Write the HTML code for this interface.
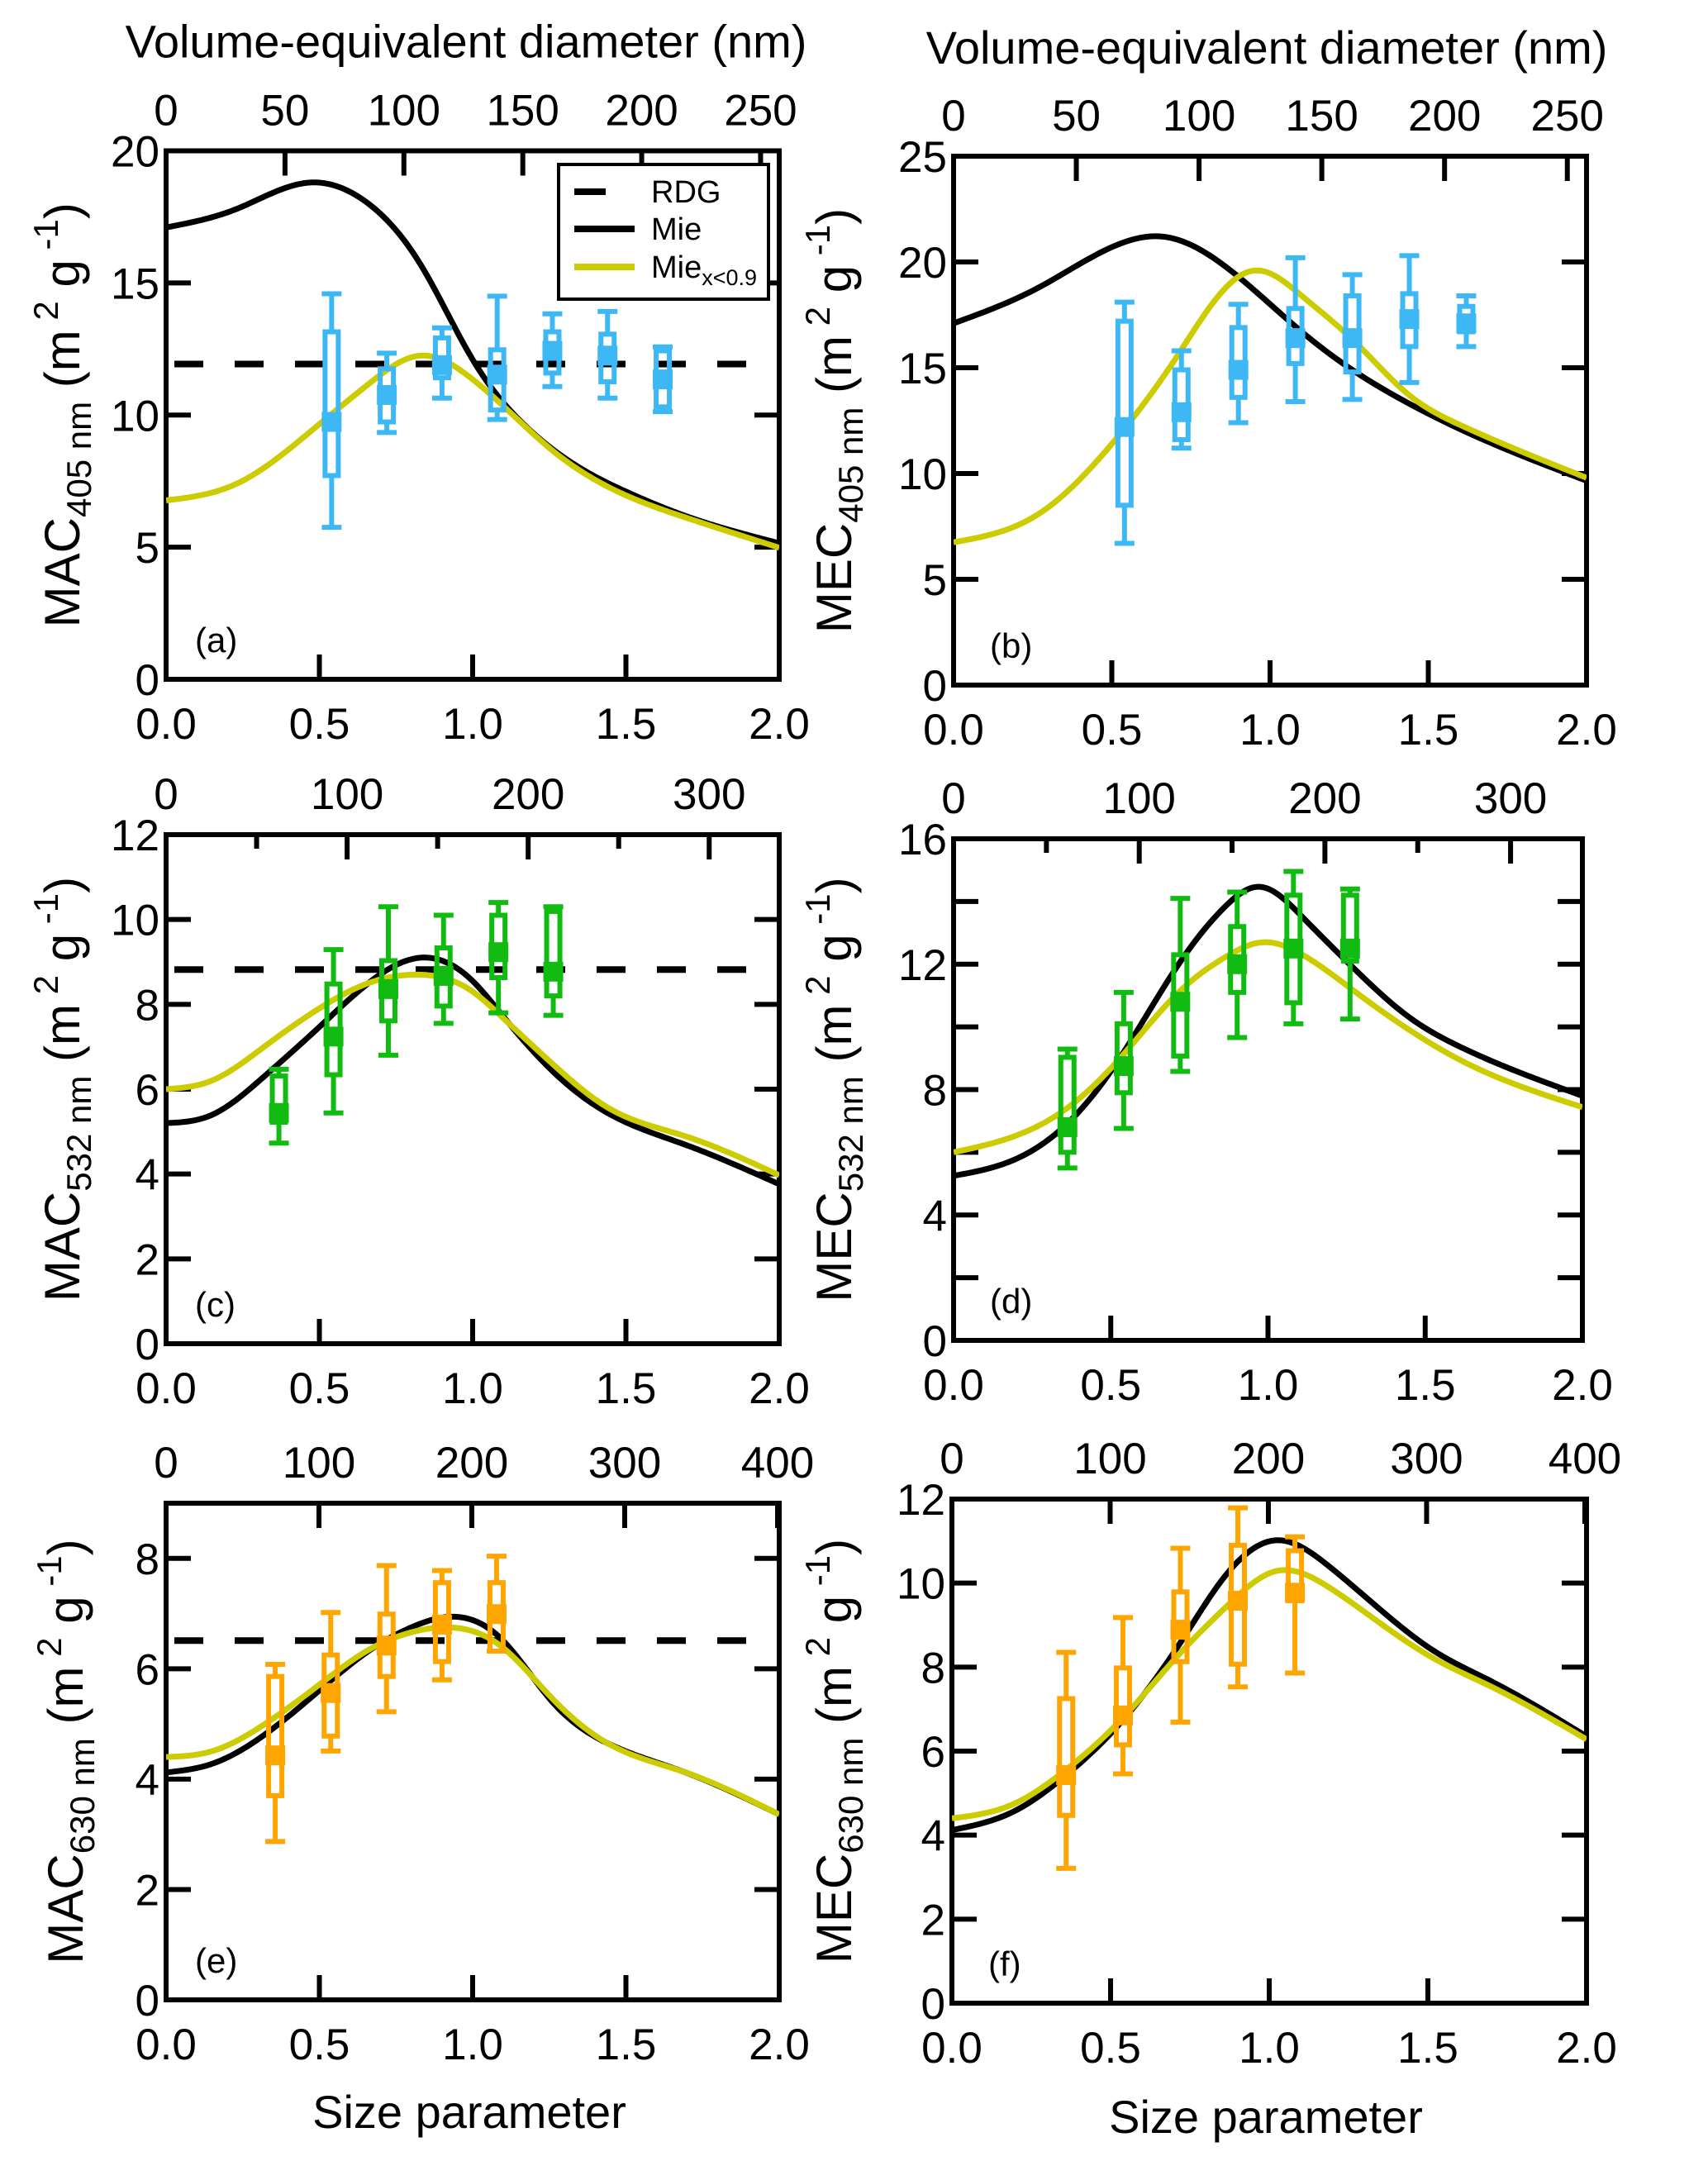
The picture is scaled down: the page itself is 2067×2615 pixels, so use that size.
<!DOCTYPE html>
<html><head><meta charset="utf-8"><style>
html,body{margin:0;padding:0;background:#fff}
svg{display:block;font-family:"Liberation Sans",Arial,sans-serif}
</style></head><body>
<svg id="fig" width="2067" height="2615" viewBox="0 0 2067 2615" xmlns="http://www.w3.org/2000/svg"></svg>
<script>
// ---------- data ----------
const rdgValues = {a:11.93, c:8.82, e:6.51};
const aMieX=[0,0.23,0.47,0.66,0.83,1.0,1.18,1.35,1.52,1.69,2.0];
const aMieY=[17.1,17.8,18.8,18.0,15.7,12.1,9.5,8.0,7.0,6.2,5.15];
const aFitX=[0,0.23,0.49,0.66,0.83,1.0,1.09,1.26,1.52,1.69,2.0];
const aFitY=[6.77,7.4,9.56,11.17,12.25,11.35,10.45,8.66,6.86,6.14,4.98];
const bMieX=[0,0.27,0.5,0.66,0.9,1.1,1.27,1.44,1.6,2.0];
const bMieY=[17.1,18.8,20.7,21.2,19.3,16.7,14.8,13.3,12.1,9.66];
const bFitX=[0,0.27,0.5,0.7,0.9,0.96,1.1,1.27,1.44,1.6,2.0];
const bFitY=[6.75,8.1,11.4,15.4,19.3,19.6,18.4,16.2,13.7,12.3,9.8];
const cMieX=[0,0.145,0.32,0.49,0.66,0.83,1.0,1.09,1.26,1.44,1.69,2.0];
const cMieY=[5.2,5.38,6.3,7.4,8.5,9.1,8.55,7.8,6.43,5.44,4.7,3.76];
const cFitX=[0,0.145,0.32,0.49,0.66,0.815,1.0,1.09,1.26,1.44,1.69,2.0];
const cFitY=[6.0,6.19,7.0,7.86,8.5,8.7,8.3,7.74,6.6,5.57,4.9,3.97];
const dMieX=[0,0.19,0.36,0.525,0.726,0.86,0.97,1.11,1.28,1.45,1.61,2.0];
const dMieY=[5.25,5.75,6.9,8.95,12.15,13.8,14.47,13.5,11.8,10.3,9.37,7.8];
const dFitX=[0,0.19,0.36,0.525,0.726,0.86,0.985,1.11,1.28,1.45,1.61,2.0];
const dFitY=[6.0,6.5,7.4,8.95,11.2,12.2,12.7,12.3,11.1,9.9,8.95,7.44];
const eMieX=[0,0.146,0.32,0.49,0.66,0.8,0.92,1.09,1.26,1.44,1.69,2.0];
const eMieY=[4.12,4.27,4.8,5.56,6.32,6.75,6.94,6.56,5.4,4.65,4.13,3.36];
const eFitX=[0,0.146,0.32,0.49,0.66,0.8,0.92,1.09,1.26,1.44,1.69,2.0];
const eFitY=[4.4,4.5,4.99,5.67,6.34,6.66,6.75,6.42,5.46,4.65,4.13,3.36];
const fMieX=[0,0.194,0.36,0.526,0.725,0.858,1.024,1.19,1.356,1.52,1.69,2.0];
const fMieY=[4.12,4.56,5.43,6.63,8.64,10.14,11.02,10.39,9.33,8.38,7.7,6.35];
const fFitX=[0,0.194,0.36,0.526,0.725,0.858,1.024,1.19,1.356,1.52,1.69,2.0];
const fFitY=[4.4,4.74,5.56,6.69,8.38,9.39,10.29,9.89,9.01,8.2,7.57,6.28];
// measurements: x, whisker low/high, box low/high, median
const aPtX=[0.54,0.72,0.90,1.08,1.26,1.44,1.62];
const aWLo=[5.75,9.34,10.64,9.83,11.08,10.64,10.13];
const aWHi=[14.59,12.34,13.3,14.5,13.83,13.92,12.58];
const aBLo=[7.71,9.74,11.41,10.19,11.59,11.26,10.31];
const aBHi=[13.15,11.75,12.92,12.47,13.15,13.06,12.43];
const aMed=[9.74,10.76,11.89,11.53,12.43,12.25,11.35];
const bPtX=[0.54,0.72,0.90,1.08,1.26,1.44,1.62];
const bWLo=[6.7,11.2,12.4,13.4,13.5,14.3,16.0];
const bWHi=[18.1,15.8,18.0,20.2,19.4,20.3,18.4];
const bBLo=[8.5,11.6,13.6,15.2,14.8,16.0,16.7];
const bBHi=[17.2,14.9,16.9,17.8,18.4,18.5,17.9];
const bMed=[12.2,12.9,14.9,16.4,16.4,17.3,17.1];
const cPtX=[0.368,0.546,0.725,0.905,1.084,1.263];
const cWLo=[4.73,5.44,6.8,7.55,7.8,7.74];
const cWHi=[6.47,9.29,10.3,10.1,10.4,10.3];
const cBLo=[5.22,6.34,7.61,7.96,8.63,8.2];
const cBHi=[6.31,8.48,9.03,9.33,10.1,10.19];
const cMed=[5.44,7.24,8.36,8.67,9.23,8.77];
const dPtX=[0.362,0.541,0.721,0.902,1.081,1.261];
const dWLo=[5.5,6.76,8.58,9.66,10.1,10.25];
const dWHi=[9.29,11.1,14.1,14.3,14.96,14.4];
const dBLo=[6.0,7.9,9.07,11.1,10.77,12.1];
const dBHi=[9.03,10.1,12.3,13.2,14.2,14.2];
const dMed=[6.8,8.75,10.8,12.0,12.5,12.5];
const ePtX=[0.356,0.537,0.719,0.9,1.078];
const eWLo=[2.87,4.51,5.22,5.8,6.32];
const eWHi=[6.08,7.02,7.87,7.78,8.04];
const eBLo=[3.7,4.78,5.86,6.13,6.32];
const eBHi=[5.86,6.25,6.99,7.56,7.56];
const eMed=[4.43,5.56,6.42,6.8,6.99];
const fPtX=[0.36,0.539,0.72,0.901,1.081];
const fWLo=[3.21,5.46,6.69,7.53,7.86];
const fWHi=[8.35,9.18,10.83,11.79,11.1];
const fBLo=[4.47,6.15,8.13,8.07,9.58];
const fBHi=[7.25,7.98,9.79,10.9,10.77];
const fMed=[5.43,6.85,8.89,9.58,9.77];
const xTickLabels=["0.0","0.5","1.0","1.5","2.0"];

// ---------- layout ----------
const svg=document.getElementById('fig');
const NS='http://www.w3.org/2000/svg';
function mk(tag,attrs,parent){const e=document.createElementNS(NS,tag);for(const k in attrs)e.setAttribute(k,attrs[k]);(parent||svg).appendChild(e);return e;}
const panels=[
 {id:'a',L:201,R:943,T:182.5,B:822,ymax:20,ystep:5,ysub:5,lam:405,dstep:50,dlab:50,dmax:250,q:'MAC',col:'#3DB8F5',mx:aMieX,my:aMieY,fx:aFitX,fy:aFitY,px:aPtX,wl:aWLo,wh:aWHi,bl:aBLo,bh:aBHi,md:aMed,rdg:rdgValues.a,topTitle:true,ytx:96},
 {id:'b',L:1154,R:1920,T:189,B:829,ymax:25,ystep:5,ysub:5,lam:405,dstep:50,dlab:50,dmax:250,q:'MEC',col:'#3DB8F5',mx:bMieX,my:bMieY,fx:bFitX,fy:bFitY,px:bPtX,wl:bWLo,wh:bWHi,bl:bBLo,bh:bBHi,md:bMed,topTitle:true,ytx:1030},
 {id:'c',L:201,R:943,T:1010,B:1626,ymax:12,ystep:2,ysub:2,lam:532,dstep:50,dlab:100,dmax:300,q:'MAC',col:'#11BB11',mx:cMieX,my:cMieY,fx:cFitX,fy:cFitY,px:cPtX,wl:cWLo,wh:cWHi,bl:cBLo,bh:cBHi,md:cMed,rdg:rdgValues.c,ytx:96},
 {id:'d',L:1154,R:1915,T:1015,B:1622,ymax:16,ystep:4,ysub:2,lam:532,dstep:50,dlab:100,dmax:300,q:'MEC',col:'#11BB11',mx:dMieX,my:dMieY,fx:dFitX,fy:dFitY,px:dPtX,wl:dWLo,wh:dWHi,bl:dBLo,bh:dBHi,md:dMed,ytx:1030},
 {id:'e',L:201,R:943,T:1819,B:2420,ymax:9,ystep:2,ysub:2,lam:630,dstep:100,dlab:100,dmax:400,q:'MAC',col:'#FFA500',mx:eMieX,my:eMieY,fx:eFitX,fy:eFitY,px:ePtX,wl:eWLo,wh:eWHi,bl:eBLo,bh:eBHi,md:eMed,rdg:rdgValues.e,bottomTitle:true,ytx:100},
 {id:'f',L:1152,R:1920,T:1814,B:2424,ymax:12,ystep:2,ysub:2,lam:630,dstep:100,dlab:100,dmax:400,q:'MEC',col:'#FFA500',mx:fMieX,my:fMieY,fx:fFitX,fy:fFitY,px:fPtX,wl:fWLo,wh:fWHi,bl:fBLo,bh:fBHi,md:fMed,bottomTitle:true,ytx:1030}
];
// natural cubic spline through (xs, ys), sampled
function spline(xs,ys){
 const n=xs.length,h=[],al=[],l=[1],mu=[0],z=[0],c=new Array(n).fill(0),b=[],d=[];
 for(let i=0;i<n-1;i++)h.push(xs[i+1]-xs[i]);
 for(let i=1;i<n-1;i++)al[i]=3/h[i]*(ys[i+1]-ys[i])-3/h[i-1]*(ys[i]-ys[i-1]);
 for(let i=1;i<n-1;i++){l[i]=2*(xs[i+1]-xs[i-1])-h[i-1]*mu[i-1];mu[i]=h[i]/l[i];z[i]=(al[i]-h[i-1]*z[i-1])/l[i];}
 for(let j=n-2;j>=0;j--){c[j]=(j<n-1&&j>0?z[j]:0)-mu[j]*c[j+1];if(j===0)c[0]=0;b[j]=(ys[j+1]-ys[j])/h[j]-h[j]*(c[j+1]+2*c[j])/3;d[j]=(c[j+1]-c[j])/(3*h[j]);}
 return function(x){let j=0;while(j<n-2&&x>xs[j+1])j++;const t=x-xs[j];return ys[j]+b[j]*t+c[j]*t*t+d[j]*t*t*t;};
}
function curvePath(xs,ys,X,Y){const f=spline(xs,ys);let d='';const N=240;for(let k=0;k<=N;k++){const x=xs[0]+(xs[xs.length-1]-xs[0])*k/N;d+=(k?'L':'M')+X(x).toFixed(2)+','+Y(f(x)).toFixed(2);}return d;}

panels.forEach(p=>{
 const g=mk('g',{});
 
 
 const X=v=>p.L+(p.R-p.L)*v/2, Y=v=>p.B-(p.B-p.T)*v/p.ymax;
 for(let v=0;v<=p.ymax+1e-9;v+=p.ysub){
  const y=Y(v);
  const t1=mk('line',{x1:p.L,x2:p.L+30,y1:y,y2:y,stroke:'#000','stroke-width':6},g);
  
  mk('line',{x1:p.R,x2:p.R-30,y1:y,y2:y,stroke:'#000','stroke-width':6},g);
  if(Math.abs(v/p.ystep-Math.round(v/p.ystep))<1e-9){
   const tl=mk('text',{x:p.L-8,y:y+19,'font-size':53,'text-anchor':'end'},g);tl.textContent=String(v);
   
  }
 }
 xTickLabels.forEach((lab,i)=>{
  const v=i*0.5,x=X(v);
  if(i>0&&i<4){mk('line',{x1:x,x2:x,y1:p.B,y2:p.B-30,stroke:'#000','stroke-width':6},g);}
  const tl=mk('text',{x:x,y:p.B+72,'font-size':53,'text-anchor':'middle'},g);tl.textContent=lab;
  
 });
 const xmaxD=2*p.lam/Math.PI;
 for(let d=0;d<=xmaxD+1e-9;d+=p.dstep){
  const x=X(d/xmaxD*2);
  const major=(d%p.dlab===0);
  if(d>0) mk('line',{x1:x,x2:x,y1:p.T,y2:p.T+(major?30:17),stroke:'#000','stroke-width':6},g);
  if(major&&d<=p.dmax){const tl=mk('text',{x:x,y:p.T-31,'font-size':53,'text-anchor':'middle'},g);tl.textContent=String(d);
   }
 }
 const fr=mk('rect',{x:p.L,y:p.T,width:p.R-p.L,height:p.B-p.T,fill:'none',stroke:'#000','stroke-width':6},g);
 
 const cp=mk('clipPath',{id:'clip'+p.id},g);mk('rect',{x:p.L,y:p.T,width:p.R-p.L,height:p.B-p.T},cp);
 const pg=mk('g',{'clip-path':'url(#clip'+p.id+')'},g);
 if(p.rdg!==undefined){const r=mk('line',{x1:p.L+10,x2:p.R,y1:Y(p.rdg),y2:Y(p.rdg),stroke:'#000','stroke-width':8,'stroke-dasharray':'35 38'},pg);
  }
 const mie=mk('path',{d:curvePath(p.mx,p.my,X,Y),fill:'none',stroke:'#000','stroke-width':7},pg);
 
 const fit=mk('path',{d:curvePath(p.fx,p.fy,X,Y),fill:'none',stroke:'#CCCC00','stroke-width':7},pg);
 
 p.px.forEach((xv,i)=>{
  const x=X(xv);
  const bg=mk('g',{stroke:p.col,'stroke-width':6,fill:'none'},g);
  
  mk('line',{x1:x,x2:x,y1:Y(p.wl[i]),y2:Y(p.bl[i])},bg);
  mk('line',{x1:x,x2:x,y1:Y(p.bh[i]),y2:Y(p.wh[i])},bg);
  mk('line',{x1:x-12,x2:x+12,y1:Y(p.wl[i]),y2:Y(p.wl[i])},bg);
  mk('line',{x1:x-12,x2:x+12,y1:Y(p.wh[i]),y2:Y(p.wh[i])},bg);
  mk('rect',{x:x-8,y:Y(p.bh[i]),width:16,height:Y(p.bl[i])-Y(p.bh[i])},bg);
  mk('rect',{x:x-12,y:Y(p.md[i])-12,width:24,height:24,fill:p.col,stroke:'none'},bg);
 });
 const pl=mk('text',{x:p.L+(p.id==='a'||p.id==='c'||p.id==='e'?35:44),y:p.B-33,'font-size':42},g);pl.textContent='('+p.id+')';
 
 const yc=(p.T+p.B)/2;
 const yt=mk('text',{x:0,y:0,'font-size':60,'text-anchor':'middle',transform:'translate('+p.ytx+','+yc+') rotate(-90)'},g);
 
 yt.innerHTML=p.q+'<tspan font-size="42" dy="14">'+p.lam+' nm</tspan><tspan dy="-14"> (m</tspan><tspan font-size="42" dy="-26"> 2</tspan><tspan dy="26"> g</tspan><tspan font-size="42" dy="-26"> -1</tspan><tspan dy="26">)</tspan>';
 if(p.topTitle){const tt=mk('text',{x:(p.L+p.R)/2+(p.id==='a'?-8:-4),y:p.T-(p.id==='a'?113:112),'font-size':56,'text-anchor':'middle'},g);tt.textContent='Volume-equivalent diameter (nm)';
  }
 if(p.bottomTitle){const bt=mk('text',{x:(p.L+p.R)/2-4,y:p.B+(p.id==='e'?155:157),'font-size':56,'text-anchor':'middle'},g);bt.textContent='Size parameter';
  }
});
const lg=mk('g',{});


mk('rect',{x:676,y:199,width:254,height:163,fill:'#fff',stroke:'#000','stroke-width':4},lg);
const l1=mk('line',{x1:695,x2:768,y1:232,y2:232,stroke:'#000','stroke-width':8,'stroke-dasharray':'38 40'},lg);

mk('line',{x1:695,x2:768,y1:277,y2:277,stroke:'#000','stroke-width':8},lg);
mk('line',{x1:695,x2:768,y1:323,y2:323,stroke:'#CCCC00','stroke-width':8},lg);
const t1=mk('text',{x:788,y:245,'font-size':38},lg);t1.textContent='RDG';
const t2=mk('text',{x:788,y:290,'font-size':38},lg);t2.textContent='Mie';
const t3=mk('text',{x:788,y:336,'font-size':38},lg);t3.innerHTML='Mie<tspan font-size="27" dy="9">x&lt;0.9</tspan>';
</script>
</body></html>
